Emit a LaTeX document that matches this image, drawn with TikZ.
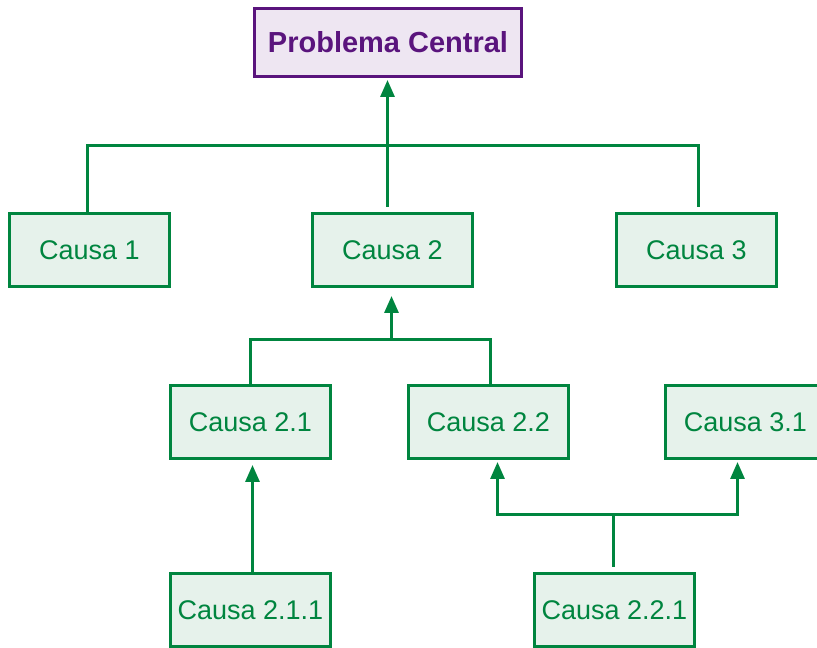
\documentclass[tikz,border=0pt]{standalone}
\usepackage{fontspec}
\setmainfont{Liberation Sans}
\usepackage{xcolor}
\usetikzlibrary{arrows.meta}
\usetikzlibrary{positioning}
\definecolor{causagreen}{RGB}{0,133,63}
\definecolor{causafill}{RGB}{230,242,235}
\definecolor{probpurple}{RGB}{90,20,125}
\definecolor{probfill}{RGB}{238,230,242}

\begin{document}
\begin{tikzpicture}[x=1pt,y=1pt,
        tip/.style={-{Triangle[length=17pt,width=14pt]}}]
        \useasboundingbox (0,0) rectangle (817,648);
        \node[draw=probpurple,fill=probfill,line width=3pt,text=probpurple,
              minimum width=267pt,minimum height=68pt,inner sep=0pt,
              font=\fontsize{29}{32}\selectfont\bfseries] (prob) at (388,605.5) {Problema Central};
        \begin{scope}[every node/.style={draw=causagreen,fill=causafill,line width=3pt,text=causagreen,
              minimum width=160pt,minimum height=73pt,inner sep=0pt,font=\fontsize{27}{30}\selectfont}]
        \node (c1) at (89.5,398) {Causa 1};
        \node (c2) at (392.5,398) {Causa 2};
        \node (c3) at (696.5,398) {Causa 3};
        \node (c21) at (250.5,226) {Causa 2.1};
        \node (c22) at (488.5,226) {Causa 2.2};
        \node (c31) at (745.5,226) {Causa 3.1};
        \node (c211) at (250.5,38) {Causa 2.1.1};
        \node (c221) at (614.5,38) {Causa 2.2.1};
        \end{scope}
        \begin{scope}[causagreen,line width=3pt]
        % nivel 1
        \coordinate (top) at (387.5,502.5);
        \draw[shorten >=5pt] ([xshift=-2pt]c1.north) |- (top) -| ([xshift=2pt]c3.north);
        \draw[tip,shorten <=5pt,shorten >=2pt] (top |- c2.north) -- (top |- prob.south);
        % nivel 2
        \coordinate (mid) at (391.5,308.5);
        \draw (c21.north) |- (mid) -| ([xshift=2pt]c22.north);
        \draw[tip,shorten >=8pt] (mid) -- (mid |- c2.south);
        % nivel 3
        \draw[tip,shorten >=5pt] ([xshift=2pt]c211.north) -- ([xshift=2pt]c21.south);
        \coordinate (low) at (613.5,133.5);
        \draw[shorten <=5pt] (low |- c221.north) -- (low);
        \draw[tip,shorten >=2pt] (low) -| ([xshift=9pt]c22.south);
        \draw[tip,shorten >=2pt] (low) -| ([xshift=-8pt]c31.south);
        \end{scope}
\end{tikzpicture}
\end{document}
